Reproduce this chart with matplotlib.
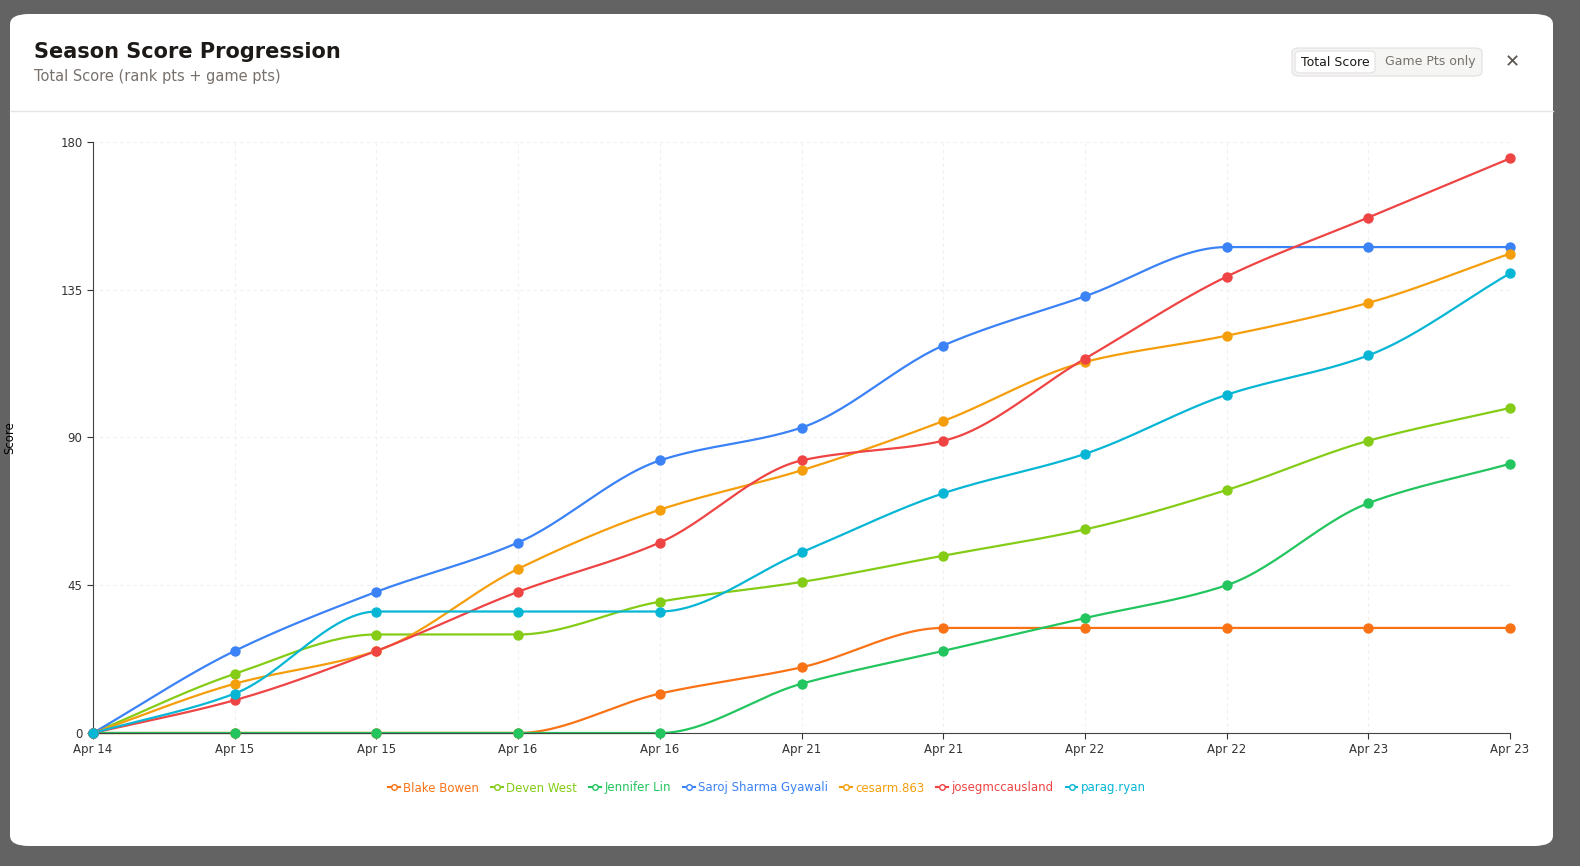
import numpy as np
import matplotlib
matplotlib.use("Agg")
import matplotlib.pyplot as plt
from matplotlib.patches import FancyBboxPatch
from matplotlib.lines import Line2D

dates = ["Apr 14","Apr 15","Apr 15","Apr 16","Apr 16","Apr 21","Apr 21","Apr 22","Apr 22","Apr 23","Apr 23"]
names = ["Blake Bowen","Deven West","Jennifer Lin","Saroj Sharma Gyawali","cesarm.863","josegmccausland","parag.ryan"]
colors = ["#f97316","#84cc16","#22c55e","#3b82f6","#f59e0b","#ef4444","#06b6d4"]
blake = [0,0,0,0,12,20,32,32,32,32,32]
deven = [0,18,30,30,40,46,54,62,74,89,99]
jennifer = [0,0,0,0,0,15,25,35,45,70,82]
saroj = [0,25,43,58,83,93,118,133,148,148,148]
cesar = [0,15,25,50,68,80,95,113,121,131,146]
jose = [0,10,25,43,58,83,89,114,139,157,175]
parag = [0,12,37,37,37,55,73,85,103,115,140]
series = [blake, deven, jennifer, saroj, cesar, jose, parag]
yticks = [0,45,90,135,180]

def monotone(x, y, n=30):
    x = np.asarray(x, float); y = np.asarray(y, float)
    h = np.diff(x); d = np.diff(y)/h
    m = np.zeros_like(y)
    m[0] = d[0]; m[-1] = d[-1]
    for i in range(1, len(y)-1):
        if d[i-1]*d[i] <= 0: m[i] = 0
        else:
            w1 = 2*h[i]+h[i-1]; w2 = h[i]+2*h[i-1]
            m[i] = (w1+w2)/(w1/d[i-1]+w2/d[i])
    xs, ys = [], []
    for i in range(len(h)):
        t = np.linspace(0, 1, n)
        h00 = 2*t**3-3*t**2+1; h10 = t**3-2*t**2+t; h01 = -2*t**3+3*t**2; h11 = t**3-t**2
        xs.append(x[i]+t*h[i]); ys.append(h00*y[i]+h10*h[i]*m[i]+h01*y[i+1]+h11*h[i]*m[i+1])
    return np.concatenate(xs), np.concatenate(ys)

W, H = 1580, 866
fig = plt.figure(figsize=(W/100, H/100), dpi=100)
fig.patch.set_facecolor("#636363")
card = FancyBboxPatch((10/W, 1-846/H), 1543/W, 832/H, boxstyle="round,pad=0,rounding_size=0.012",
                      transform=fig.transFigure, facecolor="white", edgecolor="none", zorder=-10)
fig.patches.append(card)
fig.add_artist(Line2D([10/W, 1553/W], [1-111/H]*2, color="#e5e5e5", lw=1))
fig.text(34/W, 1-52/H, "Season Score Progression", fontsize=15, fontweight="bold", color="#1c1917", va="center")
fig.text(34/W, 1-77/H, "Total Score (rank pts + game pts)", fontsize=10.5, color="#78716c", va="center")
tog = FancyBboxPatch((1292/W, 1-76/H), 190/W, 28/H, boxstyle="round,pad=0,rounding_size=0.005",
                     transform=fig.transFigure, facecolor="#f5f5f4", edgecolor="#e7e5e4")
fig.patches.append(tog)
act = FancyBboxPatch((1295/W, 1-73/H), 80/W, 22/H, boxstyle="round,pad=0,rounding_size=0.004",
                     transform=fig.transFigure, facecolor="white", edgecolor="#e7e5e4")
fig.patches.append(act)
fig.text(1335/W, 1-62/H, "Total Score", fontsize=9, color="#1c1917", ha="center", va="center")
fig.text(1430/W, 1-62/H, "Game Pts only", fontsize=9, color="#78716c", ha="center", va="center")
fig.text(1512/W, 1-62/H, "✕", fontsize=13, color="#57534e", ha="center", va="center")

ax = fig.add_axes([93/W, 1-733/H, (1510-93)/W, (733-142)/H])
ax.set_zorder(5); ax.patch.set_alpha(0)
ax.set_xlim(0, len(dates)-1); ax.set_ylim(0, 180)
x = np.arange(len(dates))
for s, c, nm in zip(series, colors, names):
    xs, ys = monotone(x, s)
    ax.plot(xs, ys, color=c, lw=1.6, zorder=2, clip_on=False)
    ax.scatter(x, s, color=c, s=42, zorder=3, clip_on=False)
ax.set_xticks(x); ax.set_xticklabels(dates, fontsize=8.5)
ax.set_yticks(yticks); ax.set_yticklabels([str(t) for t in yticks], fontsize=8.5)
ax.grid(axis="both", color="#f0f0f0", ls=(0, (3, 3)), lw=0.8)
for sp in ["top", "right"]: ax.spines[sp].set_visible(False)
for sp in ["left", "bottom"]: ax.spines[sp].set_color("#444")
ax.tick_params(colors="#333", length=4)
ax.set_ylabel("Score", fontsize=8.5, labelpad=32)

handles = [Line2D([0], [0], color=c, lw=1.5, marker="o", markersize=4, markerfacecolor="white") for c in colors]
leg = fig.legend(handles, names, loc="center", bbox_to_anchor=(767/W, 1-788/H), ncol=7, frameon=False,
                 fontsize=8.5, handlelength=1.0, columnspacing=1.0, handletextpad=0.3)
for t, c in zip(leg.get_texts(), colors): t.set_color(c)
fig.savefig("out.png", dpi=100, facecolor=fig.get_facecolor())
